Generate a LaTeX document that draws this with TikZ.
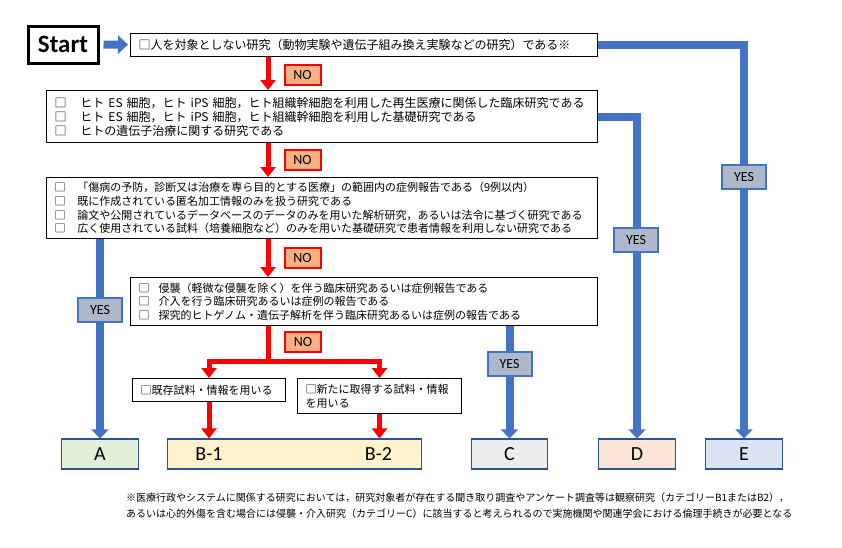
\documentclass[tikz,border=0pt]{standalone}
\usepackage{fontspec}
\setmainfont{Carlito}
\newfontfamily\jp{Noto Sans CJK JP}
\usetikzlibrary{arrows.meta,positioning}
\definecolor{lineblue}{HTML}{4472C4}
\definecolor{boxblue}{HTML}{2F528F}
\definecolor{yesfill}{HTML}{ADB9CA}
\definecolor{nofill}{HTML}{F4B183}
\definecolor{afill}{HTML}{E2F0D9}
\definecolor{bfill}{HTML}{FFF2CC}
\definecolor{cfill}{HTML}{EDEDED}
\definecolor{dfill}{HTML}{FBE5D6}
\definecolor{efill}{HTML}{DAE3F3}
\newcommand{\chk}[1][12pt]{□\hspace{#1}}

\begin{document}
\begin{tikzpicture}[x=1pt,y=-1pt,
    qbox/.style={draw,line width=1pt,fill=white,align=left,anchor=north west,
      inner xsep=8pt,inner ysep=2pt},
    resbox/.style={draw=boxblue,line width=1.2pt,minimum width=76.5pt,
      minimum height=30pt,inner sep=0pt,font=\fontsize{20}{20}\selectfont},
    reslabel/.style={inner sep=0pt,font=\fontsize{20}{20}\selectfont},
    yesbox/.style={draw=lineblue,line width=2pt,fill=yesfill,minimum width=44pt,
      minimum height=24pt,inner sep=0pt,font=\fontsize{14}{14}\selectfont},
    nobox/.style={draw=red,line width=2pt,fill=nofill,minimum width=36pt,
      minimum height=20pt,inner sep=0pt,font=\fontsize{14}{14}\selectfont},
    blueline/.style={draw=lineblue,line width=8pt,-{Triangle[width=17pt,length=9pt]}},
    redline/.style={draw=red,line width=5pt,-{Triangle[width=15pt,length=10pt]}}]
  \useasboundingbox (0,0) rectangle (842,547);

  % questions
  \node[draw,line width=3pt,minimum width=70pt,minimum height=37pt,
    font=\bfseries\fontsize{25}{25}\selectfont] (start) at (63,44.5) {Start};
  \node[qbox,text width=451pt,minimum height=23pt,font=\jp\fontsize{12}{14}\selectfont] (q1) at (130,33)
    {□人を対象としない研究（動物実験や遺伝子組み換え実験などの研究）である※};
  \node[qbox,text width=535pt,minimum height=52pt,font=\jp\fontsize{12}{14}\selectfont] (q2) at (46,90)
    {\chk[14pt]ヒト ES 細胞，ヒト iPS 細胞，ヒト組織幹細胞を利用した再生医療に関係した臨床研究である\\
     \chk[14pt]ヒト ES 細胞，ヒト iPS 細胞，ヒト組織幹細胞を利用した基礎研究である\\
     \chk[14pt]ヒトの遺伝子治療に関する研究である};
  \node[qbox,text width=535pt,minimum height=61pt,font=\jp\fontsize{11}{13.7}\selectfont] (q3) at (46,177)
    {\chk「傷病の予防，診断又は治療を専ら目的とする医療」の範囲内の症例報告である（9例以内）\\
     \chk 既に作成されている匿名加工情報のみを扱う研究である\\
     \chk 論文や公開されているデータベースのデータのみを用いた解析研究，あるいは法令に基づく研究である\\
     \chk 広く使用されている試料（培養細胞など）のみを用いた基礎研究で患者情報を利用しない研究である};
  \node[qbox,text width=451pt,minimum height=48pt,font=\jp\fontsize{11}{13.5}\selectfont] (q4) at (130,277)
    {\chk[9pt]侵襲（軽微な侵襲を除く）を伴う臨床研究あるいは症例報告である\\
     \chk[9pt]介入を行う臨床研究あるいは症例の報告である\\
     \chk[9pt]探究的ヒトゲノム・遺伝子解析を伴う臨床研究あるいは症例の報告である};
  \node[qbox,text width=137pt,minimum height=23pt,font=\jp\fontsize{11}{14}\selectfont] (q5) at (132,378)
    {□既存試料・情報を用いる};
  \node[qbox,text width=148pt,minimum height=35pt,font=\jp\fontsize{11}{14}\selectfont] (q6) at (297,378)
    {□新たに取得する試料・情報\\を用いる};

  % categories
  \node[resbox,fill=afill] (resA) at (100,454) {A};
  \node[resbox,fill=bfill,minimum width=254pt] (resB) at (294.6,454) {};
  \node[reslabel] (labB1) at (209,454) {B-1};
  \node[reslabel] (labB2) at (378.5,454) {B-2};
  \node[resbox,fill=cfill] (resC) at (509.5,454) {C};
  \node[resbox,fill=dfill] (resD) at (637,454) {D};
  \node[resbox,fill=efill] (resE) at (744,454) {E};

  % NO path
  \coordinate (nocol) at (268,0);
  \coordinate (split) at (268,361);
  \draw[redline] (q1.south -| nocol) -- (q2.north -| nocol);
  \draw[redline] (q2.south -| nocol) -- (q3.north -| nocol);
  \draw[redline] (q3.south -| nocol) -- (q4.north -| nocol);
  \draw[redline,-] (q4.south -| nocol) -- (split);
  \draw[redline] (split) -| (q5.north);
  \draw[redline] (split) -| (q6.north);
  \draw[redline] (q5.south) -- (q5.south |- resB.north);
  \draw[redline] (q6.south) -- (q6.south |- resB.north);

  % YES path
  \draw[blueline,-{Triangle[width=18pt,length=10pt]},shorten <=4pt,shorten >=2pt] (start) -- (q1);
  \draw[blueline] (q1.east) -| (resE.north);
  \draw[blueline] (q2.east) -| (resD.north);
  \draw[blueline] (q3.south -| resA.north) -- (resA.north);
  \draw[blueline] (q4.south -| resC.north) -- (resC.north);

  \node[nobox] (no1) at (302.5,74.5) {NO};
  \node[nobox] (no2) at (302.5,160) {NO};
  \node[nobox] (no3) at (302.5,257.5) {NO};
  \node[nobox] (no4) at (303,342) {NO};
  \node[yesbox] (yesE) at (744,176.5) {YES};
  \node[yesbox] (yesD) at (636,239.5) {YES};
  \node[yesbox] (yesA) at (100,310) {YES};
  \node[yesbox] (yesC) at (509.5,364) {YES};

  % footnote
  \node[anchor=north west,inner sep=0pt,align=left,font=\jp\fontsize{10}{15.5}\selectfont] (note) at (126,493)
    {※医療行政やシステムに関係する研究においては，研究対象者が存在する聞き取り調査やアンケート調査等は観察研究（カテゴリーB1またはB2），\\
     あるいは心的外傷を含む場合には侵襲・介入研究（カテゴリーC）に該当すると考えられるので実施機関や関連学会における倫理手続きが必要となる};
\end{tikzpicture}
\end{document}
